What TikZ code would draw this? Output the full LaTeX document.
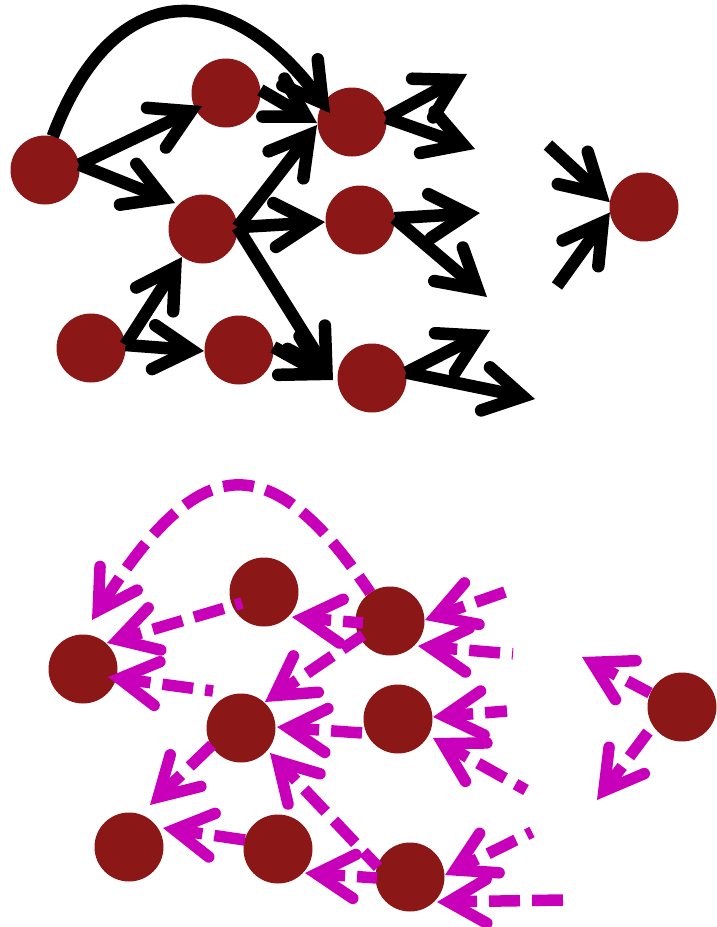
\documentclass[tikz,border=0pt]{standalone}
\usetikzlibrary{arrows.meta,calc}
\definecolor{nodered}{RGB}{139,23,23}
\definecolor{edgemag}{RGB}{200,0,185}
\begin{document}
\begin{tikzpicture}[x=1pt,y=-1pt,
  dot/.style={circle,fill=nodered,draw=none,minimum size=69pt,inner sep=0pt,outer sep=0pt},
  barbtip/.style={-{Straight Barb[length=38pt,width=44pt,line cap=round,line join=miter]}},
  topedge/.style={barbtip,line width=12.5pt,black},
  botedge/.style={barbtip,line width=11.5pt,edgemag,dash pattern=on 31pt off 12pt},
]
\useasboundingbox (0,0) rectangle (716,927);
% top graph nodes
\node[dot] (A) at (45,170) {};
\node[dot] (B) at (226,93) {};
\node[dot] (C) at (352,122) {};
\node[dot] (D) at (203,229) {};
\node[dot] (E) at (360,220) {};
\node[dot] (F) at (91,348) {};
\node[dot] (G) at (239,350) {};
\node[dot] (H) at (372,378) {};
\node[dot] (I) at (644,207) {};
% bottom graph nodes
\node[dot] (A2) at (83,669) {};
\node[dot] (B2) at (264,592) {};
\node[dot] (C2) at (390,621) {};
\node[dot] (D2) at (241,728) {};
\node[dot] (E2) at (398,719) {};
\node[dot] (F2) at (129,847) {};
\node[dot] (G2) at (278,849) {};
\node[dot] (H2) at (410,877) {};
\node[dot] (I2) at (682,707) {};
% free ends, top
\coordinate (c1) at (467,74);
\coordinate (c2) at (475,149);
\coordinate (e1) at (480,213);
\coordinate (e2) at (487,297);
\coordinate (h1) at (490,330);
\coordinate (h2) at (535,399);
\coordinate (i1) at (548,145);
\coordinate (i2) at (557,286);
% free ends, bottom
\coordinate (k1) at (505,592);
\coordinate (k2) at (513,654);
\coordinate (k3) at (507,711);
\coordinate (k4) at (526,790);
\coordinate (k5) at (532,832);
\coordinate (k6) at (563,900);
\coordinate (k7) at (582,657);
\coordinate (k8) at (597,800);
% top edges
\draw[topedge] (A.77) .. controls +(60,-160) and +(-101,-137) .. ($(C)+(-22,-9)$);
\draw[topedge] (A.9) -- ($(B)+(-24,13)$);
\draw[topedge] (A.9) -- ($(D)+(-28,-26)$);
\draw[topedge] (B.5) -- ($(C)+(-35,1)$);
\draw[topedge] (D.3) -- ($(C)+(-35,3)$);
\draw[topedge] (D.3) -- ($(E)+(-35,2)$);
\draw[topedge] (D.3) -- ($(H)+(-39,2)$);
\draw[topedge] (F.5) -- ($(D)+(-21,28)$);
\draw[topedge] (F.5) -- ($(G)+(-35,1)$);
\draw[topedge] (G.5) -- ($(H)+(-39,2)$);
\draw[topedge] (C.7) -- (c1);
\draw[topedge] (C.7) -- (c2);
\draw[topedge] (E.3) -- (e1);
\draw[topedge] (E.3) -- (e2);
\draw[topedge] (H.9) -- (h1);
\draw[topedge] (H.9) -- (h2);
\draw[topedge] (i1) -- (I.172);
\draw[topedge] (i2) -- (I.189);
% bottom edges
\draw[botedge,dash phase=11pt] (C2.125) .. controls +(-106,-158) and +(102,-160) .. ($(A2)+(9,-49)$);
\draw[botedge,dash phase=24pt] ($(B2)+(-22,11)$) -- ($(A2)+(24,-26)$);
\draw[botedge,dash phase=23pt] ($(D2)+(-28,-37)$) -- ($(A2)+(25,8)$);
\draw[botedge,dash phase=11pt] ($(C2)+(-27,2)$) -- ($(B2)+(28,25)$);
\draw[botedge,dash phase=6pt] ($(C2)+(-27,14)$) -- ($(D2)+(24,-26)$);
\draw[botedge] ($(E2)+(-36,14)$) -- ($(D2)+(36,-1)$);
\draw[botedge,dash phase=10pt] ($(H2)+(-32,-10)$) -- ($(D2)+(29,25)$);
\draw[botedge] ($(D2)+(-29,17)$) -- ($(F2)+(21,-42)$);
\draw[botedge] ($(G2)+(-33,-9)$) -- ($(F2)+(34,-19)$);
\draw[botedge,dash phase=11pt] ($(H2)+(-33,1)$) -- ($(G2)+(27,24)$);
\draw[botedge] (k1) -- ($(C2)+(35,-1)$);
\draw[botedge,dash phase=30pt] (k2) -- ($(C2)+(28,25)$);
\draw[botedge,dash phase=9pt] (k3) -- ($(E2)+(35,-2)$);
\draw[botedge,dash phase=19pt] (k4) -- ($(E2)+(35,19)$);
\draw[botedge,dash phase=25pt] (k5) -- ($(H2)+(35,-2)$);
\draw[botedge] (k6) -- ($(H2)+(27,25)$);
\draw[botedge,dash phase=5pt] ($(I2)+(-32,-14)$) -- (k7);
\draw[botedge] ($(I2)+(-34,25)$) -- (k8);
\end{tikzpicture}
\end{document}
